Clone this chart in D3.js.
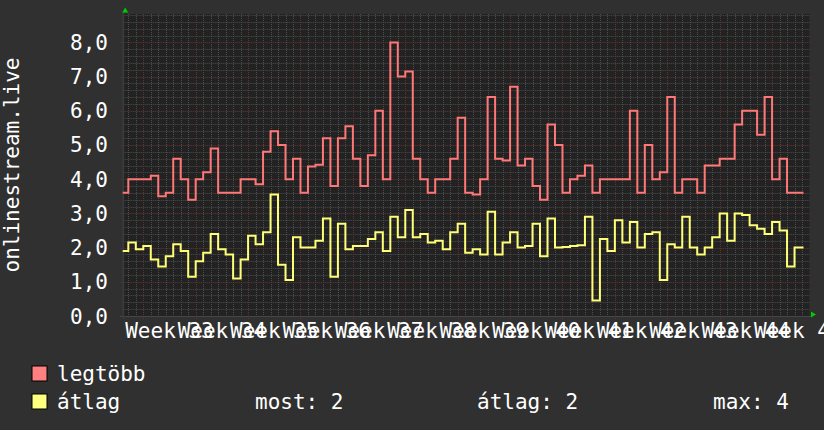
<!DOCTYPE html>
<html>
<head>
<meta charset="utf-8">
<script src="https://cdn.jsdelivr.net/npm/d3@7"></script>
<style>
  body { margin: 0; background: #303030; }
  svg { display: block; font-family: "DejaVu Sans Mono", monospace; }
</style>
</head>
<body>
<svg width="824" height="430"></svg>
<script>
// daily values, first entry is the partial day at the left edge of the graph
var maxValues = [3.6,
    4.0, 4.0, 4.0, 4.1, 3.5, 3.6, 4.6, 4.0, 3.4, 4.0,
    4.2, 4.9, 3.6, 3.6, 3.6, 4.0, 4.0, 3.85, 4.8, 5.4,
    5.0, 4.0, 4.6, 3.6, 4.37, 4.42, 5.2, 3.8, 5.2, 5.55,
    4.6, 3.8, 4.7, 6.0, 4.0, 8.0, 7.0, 7.15, 4.6, 4.0,
    3.6, 4.0, 4.0, 4.6, 5.8, 3.6, 3.55, 4.0, 6.4, 4.6,
    4.55, 6.7, 4.4, 4.6, 3.8, 3.4, 5.6, 5.0, 3.6, 4.0,
    4.1, 4.4, 3.6, 4.0, 4.0, 4.0, 4.0, 6.0, 3.6, 5.0,
    4.0, 4.2, 6.4, 3.6, 4.0, 4.0, 3.6, 4.4, 4.4, 4.6,
    4.6, 5.6, 6.0, 6.0, 5.3, 6.4, 4.0, 4.6, 3.6, 3.6, 3.6];
var avgValues = [1.9,
    2.15, 1.95, 2.05, 1.65, 1.45, 1.75, 2.1, 1.9, 1.15, 1.6,
    1.85, 2.4, 1.95, 1.8, 1.1, 1.65, 2.35, 2.1, 2.45, 3.55,
    1.5, 1.05, 2.3, 2.0, 2.0, 2.2, 2.85, 1.15, 2.7, 1.95,
    2.05, 2.05, 2.25, 2.45, 1.9, 2.9, 2.3, 3.1, 2.3, 2.4,
    2.15, 2.2, 1.95, 2.45, 2.7, 1.85, 1.95, 1.8, 3.05, 1.8,
    2.15, 2.45, 2.0, 2.05, 2.7, 1.75, 2.85, 2.0, 2.02, 2.05,
    2.07, 2.9, 0.45, 2.25, 1.9, 2.8, 2.15, 2.75, 2.0, 2.4,
    2.45, 1.05, 2.1, 2.0, 2.9, 2.0, 1.8, 2.0, 2.3, 3.0,
    2.2, 3.0, 2.95, 2.65, 2.55, 2.4, 2.75, 2.5, 1.45, 2.0, 2.0];
var weekLabels = ["Week 33", "Week 34", "Week 35", "Week 36", "Week 37", "Week 38", "Week 39",
    "Week 40", "Week 41", "Week 42", "Week 43", "Week 44", "Week 45"];
var yTicks = [0, 1, 2, 3, 4, 5, 6, 7, 8];
var legendNames = ["legtöbb", "átlag"];
var legendColors = ["#ff8080", "#ffff80"];
var legendStats = ["most: 2", "átlag: 2", "max: 4"];

var svg = d3.select("svg"),
    plotLeft = 122.7, plotRight = 809.5, plotTop = 14, plotBottom = 316;

// x in days, day 0 starts a bit after the left edge; weeks start on day 2
var x = d3.scaleLinear().domain([-0.75, 91]).range([plotLeft, plotRight]);
var y = d3.scaleLinear().domain([0, 8.83]).range([plotBottom, plotTop]);

svg.append("rect")
    .attr("x", 0).attr("y", 0).attr("width", 824).attr("height", 430)
    .attr("fill", "#303030");
svg.append("rect")
    .attr("x", plotLeft).attr("y", plotTop)
    .attr("width", plotRight - plotLeft).attr("height", plotBottom - plotTop)
    .attr("fill", "#222222");

var grid = svg.append("g").attr("stroke-dasharray", "1,1").attr("stroke-width", 1);

// minor horizontal grid every 0.2
var minorY = d3.range(1, 45).map(function(k) { return k * 0.2; })
    .filter(function(v) { return Math.abs(v - Math.round(v)) > 0.01; });
grid.selectAll(".hminor").data(minorY).enter().append("line")
    .attr("x1", plotLeft).attr("x2", plotRight)
    .attr("y1", function(d) { return Math.round(y(d)) + 0.5; })
    .attr("y2", function(d) { return Math.round(y(d)) + 0.5; })
    .attr("stroke", "#4d4d4d");

// minor vertical grid every day
var days = d3.range(0, 91).filter(function(d) { return (d - 2) % 7 != 0; });
grid.selectAll(".vminor").data(days).enter().append("line")
    .attr("y1", plotTop).attr("y2", plotBottom + 2)
    .attr("x1", function(d) { return Math.round(x(d)) + 0.5; })
    .attr("x2", function(d) { return Math.round(x(d)) + 0.5; })
    .attr("stroke", "#4d4d4d");

// major grid
grid.selectAll(".hmajor").data(yTicks.slice(1)).enter().append("line")
    .attr("x1", plotLeft - 2).attr("x2", plotRight)
    .attr("y1", function(d) { return Math.round(y(d)) + 0.5; })
    .attr("y2", function(d) { return Math.round(y(d)) + 0.5; })
    .attr("stroke", "#663636");

var weekStarts = weekLabels.map(function(w, i) { return 2 + 7 * i; });
grid.selectAll(".vmajor").data(weekStarts).enter().append("line")
    .attr("y1", plotTop).attr("y2", plotBottom + 3)
    .attr("x1", function(d) { return Math.round(x(d)) + 0.5; })
    .attr("x2", function(d) { return Math.round(x(d)) + 0.5; })
    .attr("stroke", "#5e3434");

// axes
svg.append("line")
    .attr("x1", plotLeft - 3).attr("x2", plotRight + 2)
    .attr("y1", plotBottom + 0.5).attr("y2", plotBottom + 0.5)
    .attr("stroke", "#474747");
svg.append("line")
    .attr("x1", plotLeft + 0.5).attr("x2", plotLeft + 0.5)
    .attr("y1", plotTop - 2).attr("y2", plotBottom + 3)
    .attr("stroke", "#3a3a3a").attr("stroke-width", 2);

// green arrows
svg.append("path")
    .attr("d", "M" + (plotLeft - 0.5) + ",12.5 L" + (plotLeft + 5.5) + ",12.5 L" + (plotLeft + 2.5) + ",7.5 Z")
    .attr("fill", "#00cc00");
svg.append("path")
    .attr("d", "M811,311.5 L811,317.5 L816,314.5 Z")
    .attr("fill", "#00cc00");

// lines
function stepPoints(values) {
    var pts = values.map(function(v, i) { return [i == 0 ? -0.75 : i - 1, v]; });
    pts.push([90.2, values[values.length - 1]]);
    return pts;
}
var line = d3.line()
    .x(function(d) { return x(d[0]); })
    .y(function(d) { return y(d[1]); })
    .curve(d3.curveStepAfter);

svg.append("path")
    .attr("d", line(stepPoints(maxValues)))
    .attr("fill", "none").attr("stroke", "#ff7777").attr("stroke-width", 2);
svg.append("path")
    .attr("d", line(stepPoints(avgValues)))
    .attr("fill", "none").attr("stroke", "#ffff77").attr("stroke-width", 2);

// y tick labels
svg.selectAll(".ylab").data(yTicks).enter().append("text")
    .attr("x", 108)
    .attr("y", function(d) { return y(d) + 7.5; })
    .attr("text-anchor", "end")
    .attr("fill", "#ffffff")
    .style("font-size", "21px")
    .text(function(d) { return d.toFixed(1).replace(".", ","); });

// week labels, centred on the middle of each week
svg.selectAll(".xlab").data(weekLabels).enter().append("text")
    .attr("x", function(d, i) { return x(5.5 + 7 * i); })
    .attr("y", 337.5)
    .attr("text-anchor", "middle")
    .attr("fill", "#ffffff")
    .style("font-size", "21px")
    .text(function(d) { return d; });

// vertical title
svg.append("text")
    .attr("transform", "translate(18.5," + ((plotTop + plotBottom) / 2) + ") rotate(-90)")
    .attr("text-anchor", "middle")
    .attr("fill", "#ffffff")
    .style("font-size", "21px")
    .text("onlinestream.live");

// legend
var legend = svg.selectAll(".legend").data(legendNames).enter().append("g")
    .attr("transform", function(d, i) { return "translate(0," + (i * 28) + ")"; });
legend.append("rect")
    .attr("x", 32).attr("y", 366)
    .attr("width", 15).attr("height", 15)
    .attr("fill", function(d, i) { return legendColors[i]; })
    .attr("stroke", "#000000").attr("stroke-width", 1);
legend.append("text")
    .attr("x", 57).attr("y", 380.5)
    .attr("fill", "#ffffff")
    .style("font-size", "21px")
    .text(function(d) { return d; });

var statX = [255, 477, 713];
svg.selectAll(".stat").data(legendStats).enter().append("text")
    .attr("x", function(d, i) { return statX[i]; })
    .attr("y", 408.5)
    .attr("fill", "#ffffff")
    .style("font-size", "21px")
    .text(function(d) { return d; });
</script>
</body>
</html>
